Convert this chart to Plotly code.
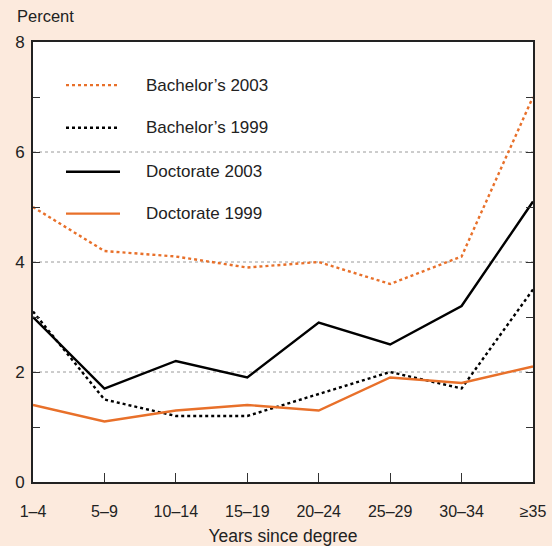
import plotly.graph_objects as go

categories = ["1–4", "5–9", "10–14", "15–19", "20–24", "25–29", "30–34", "≥35"]
bach_2003 = [5.0, 4.2, 4.1, 3.9, 4.0, 3.6, 4.1, 7.0]
bach_1999 = [3.1, 1.5, 1.2, 1.2, 1.6, 2.0, 1.7, 3.5]
doc_2003 = [3.0, 1.7, 2.2, 1.9, 2.9, 2.5, 3.2, 5.1]
doc_1999 = [1.4, 1.1, 1.3, 1.4, 1.3, 1.9, 1.8, 2.1]
y_ticks = [0, 2, 4, 6, 8]

ORANGE = "#E8702A"
BG = "#FCEADD"
FONT = "Liberation Sans, Arial, sans-serif"

series = [
    ("Bachelor’s 2003", bach_2003, ORANGE, "dot"),
    ("Bachelor’s 1999", bach_1999, "black", "dot"),
    ("Doctorate 2003", doc_2003, "black", "solid"),
    ("Doctorate 1999", doc_1999, ORANGE, "solid"),
]

fig = go.Figure()
xs = list(range(len(categories)))
for name, vals, col, dash in series:
    fig.add_trace(go.Scatter(x=xs, y=vals, mode="lines", name=name,
                             line=dict(color=col, width=2.4, dash=dash),
                             showlegend=False, hoverinfo="skip"))

# gridlines (dotted) at 2, 4, 6
for v in [2, 4, 6]:
    fig.add_shape(type="line", xref="paper", x0=0, x1=1, yref="y", y0=v, y1=v,
                  line=dict(color="#9a9a9a", width=1, dash="dot"), layer="below")

# manual legend
legend_y = [0.902, 0.805, 0.705, 0.610]
for (name, vals, col, dash), ly in zip(series, legend_y):
    fig.add_shape(type="line", xref="paper", yref="paper", x0=0.066, x1=0.174, y0=ly, y1=ly,
                  line=dict(color=col, width=2.4, dash=dash))
    fig.add_annotation(xref="paper", yref="paper", x=0.222, y=ly, text=name, showarrow=False,
                       xanchor="left", yanchor="middle", font=dict(size=17, color="#222", family=FONT))

fig.add_annotation(xref="paper", yref="paper", x=-0.036, y=1.058, text="Percent", showarrow=False,
                   xanchor="left", yanchor="middle", font=dict(size=16.5, color="#222", family=FONT))

fig.update_layout(
    width=552, height=546,
    margin=dict(l=33, r=19, t=42, b=64, autoexpand=False),
    paper_bgcolor=BG, plot_bgcolor="white",
    font=dict(family=FONT, size=16, color="#222"),
    xaxis=dict(range=[0, 7], tickmode="array", tickvals=xs, ticktext=categories,
               ticks="inside", ticklen=9, tickcolor="#333", tickwidth=1,
               showline=True, linecolor="#222", linewidth=2, mirror=True,
               showgrid=False, zeroline=False, ticklabelstandoff=14, automargin=False,
               title=dict(text="Years since degree", font=dict(size=17.5), standoff=15)),
    yaxis=dict(range=[0, 8], tickmode="array", tickvals=y_ticks,
               ticks="inside", ticklen=7, tickcolor="#333", tickwidth=1,
               tickfont=dict(size=17),
               showline=True, linecolor="#222", linewidth=2, mirror="ticks",
               showgrid=False, zeroline=False, ticklabelstandoff=3, automargin=False,
               minor=dict(tickvals=[1, 3, 5, 7], ticks="inside", ticklen=7, tickcolor="#333", showgrid=False)),
)

fig.write_html(
    "out.html",
    config={"displayModeBar": False, "staticPlot": True},
    post_script="document.body.style.margin='0';document.body.style.overflow='hidden';"
                "document.body.style.background='" + BG + "';",
)
